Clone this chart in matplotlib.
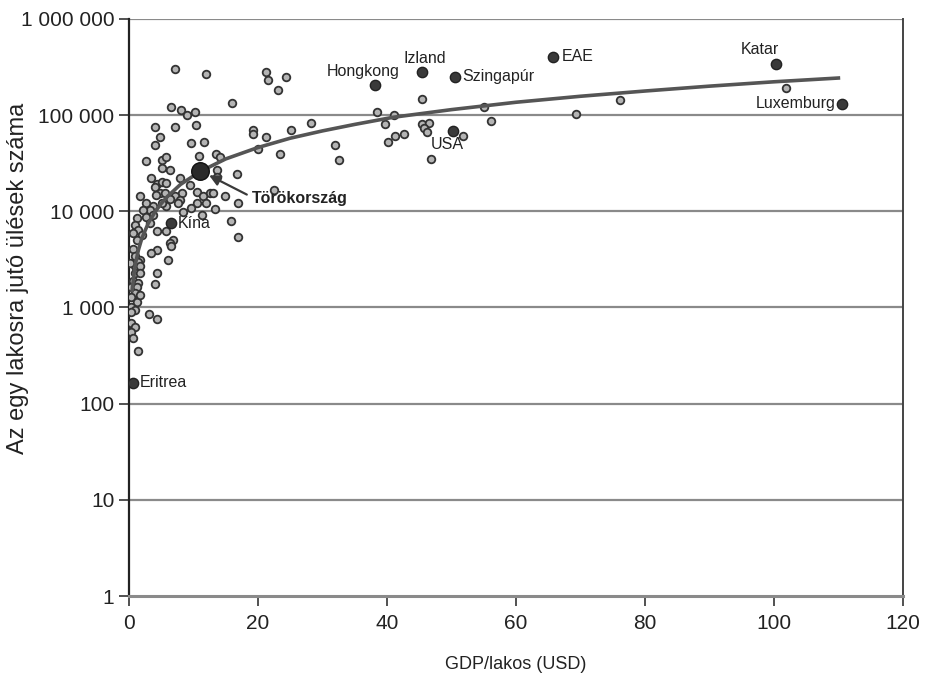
import numpy as np
import matplotlib
matplotlib.use("Agg")
import matplotlib.pyplot as plt

plt.rcParams['font.family'] = ['Liberation Sans', 'DejaVu Sans']

# --- DATA ---
gdp = [7.1, 11.9, 21.3, 21.5, 24.4, 23.1, 6.6, 8.1, 9.0, 10.2, 16.0, 4.0, 7.1, 10.4, 4.8, 4.0,
       9.7, 11.6, 19.3, 19.3, 21.2, 10.9, 13.5, 14.2, 20.0, 2.6, 5.1, 5.7, 5.2, 6.4,
       45.5, 38.5, 41.1, 39.7, 28.2, 25.2, 23.4, 31.9, 32.6, 41.3, 42.7, 40.2, 45.5, 46.5,
       45.7, 46.2, 46.9, 22.5, 55.0, 56.1, 69.3, 76.1, 101.9, 51.8,
       13.6, 13.6, 16.7, 3.5, 4.3, 5.1, 5.8, 4.0, 4.8, 5.6, 4.2, 9.5, 1.7, 8.3, 7.1, 6.4,
       7.9, 7.6, 10.5, 12.6, 13.1, 11.5, 14.9, 16.9, 10.5, 12.0, 13.3, 9.7, 8.4, 11.3,
       5.7, 5.1, 3.8, 2.7, 3.3, 2.2, 3.8, 2.7, 1.2, 3.3, 15.8, 16.9, 4.3, 5.8, 0.9, 1.4,
       0.7, 2.0, 1.2, 6.9, 6.4, 6.6, 4.3, 3.5, 0.7, 0.9, 1.7, 0.9, 0.2, 6.1, 1.4, 1.7,
       0.9, 1.7, 0.7, 1.4, 0.4, 1.2, 0.9, 0.4, 1.2, 0.4, 0.9, 0.4, 4.3, 4.0, 1.7, 3.1,
       4.4, 0.4, 0.9, 0.4, 0.6, 1.4, 7.9]
seats = [300000, 268000, 283000, 232000, 250000, 183000, 121000, 113000, 100000, 107000,
         135000, 75000, 75000, 79000, 59000, 49000, 51000, 53000, 70000, 63000, 59000,
         38000, 39000, 37000, 44000, 33000, 34000, 37000, 28000, 27000,
         146000, 109000, 100000, 81000, 82000, 70000, 39000, 49000, 34000, 61000, 64000,
         53000, 81000, 82000, 73000, 67000, 35000, 16700, 121000, 87000, 102000, 142000,
         193000, 61000,
         27000, 23000, 24500, 22000, 19300, 20400, 19600, 18100, 15400, 15400, 14800, 18800,
         14500, 15400, 14500, 13400, 13100, 12300, 16000, 15400, 15400, 14500, 14500, 12300,
         12300, 12300, 10500, 10900, 9900, 9200,
         11400, 12100, 11400, 12100, 10300, 10300, 9200, 8800, 8500, 7600, 8000, 5400, 6300,
         6200, 7200, 6400, 5900, 5700, 5000, 5000, 4700, 4400, 4000, 3700, 4100, 3400, 3100,
         2700, 2900, 3100, 3000, 2700, 2300, 2300, 1900, 1800, 1650, 1650, 1400, 1300, 1150,
         1020, 945, 905, 2300, 1750, 1350, 850, 755, 690, 630, 560, 480, 355, 22000]

named = ['Hongkong', 'Izland', 'Szingapúr', 'EAE', 'Katar', 'Luxemburg', 'USA', 'Kína', 'Eritrea']
named_gdp = [38.1, 45.5, 50.5, 65.8, 100.3, 110.6, 50.3, 6.6, 0.6]
named_seats = [208000, 278000, 251000, 405000, 336000, 131000, 68500, 7600, 164]

turkey_gdp = 11.1
turkey_seats = 26300

# trend curve
trend_x = [0.5, 1, 1.5, 2, 3, 4, 5, 6, 8, 11, 15, 20, 25, 30, 35, 41, 50, 60, 70, 80, 90, 100, 110]
trend_y = [1500, 2800, 4000, 5200, 7500, 9700, 12000, 14300, 19000, 25800, 35000, 46000, 57500,
           68500, 80000, 95000, 114000, 136000, 157000, 178000, 200000, 222000, 243000]

yticks = [1, 10, 100, 1000, 10000, 100000, 1000000]
ytick_labels = ['1', '10', '100', '1 000', '10 000', '100 000', '1 000 000']
xticks = [0, 20, 40, 60, 80, 100, 120]

# --- PLOT ---
fig = plt.figure(figsize=(9.27, 6.76), dpi=100)
ax = fig.add_axes([0.139, 0.1183, 0.835, 0.8537])
ax.set_yscale('log')
ax.set_xlim(0, 120)
ax.set_ylim(1, 1000000)

for t in yticks[1:]:
    ax.axhline(t, color='#8a8a8a', lw=1.6, zorder=1)

ax.scatter(gdp, seats, s=30, facecolor='#b4b4b4', edgecolor='#333333', linewidth=1.3, zorder=3)
ax.plot(trend_x, trend_y, color='#555555', lw=2.6, zorder=4, solid_joinstyle='round')
ax.scatter(named_gdp, named_seats, s=55, facecolor='#3a3a3a', edgecolor='#222222', linewidth=1, zorder=5)
ax.scatter([turkey_gdp], [turkey_seats], s=160, facecolor='#2a2a2a', edgecolor='#111111', zorder=5)

# labels for the named countries
label_pos = {
    'Hongkong': ((-11, 6), 'center', 'bottom'),
    'Izland': ((2, 6), 'center', 'bottom'),
    'Szingapúr': ((8, 0), 'left', 'center'),
    'EAE': ((8, 0), 'left', 'center'),
    'Katar': ((-16, 7), 'center', 'bottom'),
    'Luxemburg': ((-7, 0), 'right', 'center'),
    'USA': ((-6, -6), 'center', 'top'),
    'Kína': ((6, -1), 'left', 'center'),
    'Eritrea': ((7, 0), 'left', 'center'),
}
for name, gx, sy in zip(named, named_gdp, named_seats):
    off, ha, va = label_pos[name]
    ax.annotate(name, (gx, sy), xytext=off, textcoords='offset pixels',
                ha=ha, va=va, fontsize=11.5, color='#222222', zorder=6)

# arrow tip sits just below-right of the Turkey dot
ax.annotate('Törökország', (turkey_gdp, turkey_seats), xytext=(19.1, 13500),
            ha='left', va='center', fontsize=11.5, fontweight='bold', color='#222222',
            arrowprops=dict(arrowstyle='-|>', color='#3a3a3a', lw=1.6, mutation_scale=16,
                            relpos=(0, 0.6), shrinkA=2, shrinkB=7), zorder=7)

ax.set_yticks(yticks)
ax.set_yticklabels(ytick_labels)
ax.yaxis.set_minor_locator(matplotlib.ticker.NullLocator())
ax.set_xticks(xticks)
ax.tick_params(axis='both', labelsize=15, length=7, width=1.2, color='#333333', labelcolor='#222222')
ax.tick_params(axis='x', pad=6)

ax.spines['top'].set_visible(False)
ax.spines['left'].set_color('#222222')
ax.spines['right'].set_color('#444444')
ax.spines['left'].set_linewidth(1.6)
ax.spines['right'].set_linewidth(1.4)
ax.spines['bottom'].set_color('#8a8a8a')
ax.spines['bottom'].set_linewidth(2.2)

ax.set_xlabel('GDP/lakos (USD)', fontsize=13, color='#222222', va='center')
ax.set_ylabel('Az egy lakosra jutó ülések száma', fontsize=17, color='#222222', va='center')
ax.xaxis.set_label_coords(0.5, -0.118)
ax.yaxis.set_label_coords(-0.143, 0.55)

fig.savefig('out.png', dpi=100)
